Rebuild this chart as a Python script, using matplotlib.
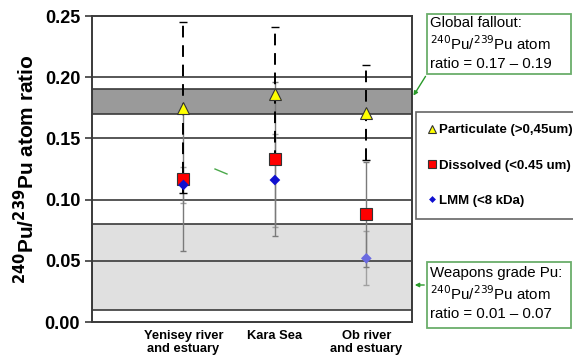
import numpy as np
import matplotlib
matplotlib.use("Agg")
import matplotlib.pyplot as plt
from matplotlib.patches import Rectangle

plt.rcParams['font.family'] = ['Liberation Sans', 'DejaVu Sans']

# data
sites = ["Yenisey river\nand estuary", "Kara Sea", "Ob river\nand estuary"]
particulate = [0.175, 0.186, 0.171]
particulate_err = [0.070, 0.055, 0.039]
dissolved = [0.117, 0.133, 0.088]
dissolved_err = [0.059, 0.063, 0.043]
lmm = [0.112, 0.116, 0.052]
lmm_err = [0.015, 0.038, 0.022]
lmm_colors = ['#1010d0', '#1010d0', '#6a6ae0']

fallout_band = (0.17, 0.19)
weapons_band = (0.01, 0.08)
grid_levels = [0.05, 0.10, 0.15, 0.20]
yticks = [0.00, 0.05, 0.10, 0.15, 0.20, 0.25]

x = np.arange(1, len(sites) + 1)
line_c = '#3a3a3a'

fig = plt.figure(figsize=(5.73, 3.56), dpi=100)
ax = fig.add_axes([0.1606, 0.0955, 0.5585, 0.8595])

# reference bands
ax.axhspan(*weapons_band, facecolor='#e0e0e0', edgecolor=line_c, linewidth=1.2, zorder=0)
ax.axhspan(*fallout_band, facecolor='#9a9a9a', edgecolor=line_c, linewidth=1.2, zorder=0)
for g in grid_levels:
    ax.axhline(g, color=line_c, linewidth=1.2, zorder=1)

# error bars
e1 = ax.errorbar(x, lmm, yerr=lmm_err, fmt='none', ecolor='#a0a0a0', elinewidth=1, capsize=2.5, zorder=2)
e2 = ax.errorbar(x, dissolved, yerr=dissolved_err, fmt='none', ecolor='#7a7a7a', elinewidth=1, capsize=2.5, zorder=3)
e3 = ax.errorbar(x, particulate, yerr=particulate_err, fmt='none', ecolor='black', elinewidth=1.4, capsize=3, zorder=4)
e3[2][0].set_linestyle((0, (6, 4)))

# markers
h1, = ax.plot(x, particulate, '^', ms=8, mfc='#ffff00', mec='#333333', mew=0.8, ls='none', zorder=6,
              label='Particulate (>0,45um)')
h2, = ax.plot(x, dissolved, 's', ms=8, mfc='#ff0000', mec='#333333', mew=0.8, ls='none', zorder=6,
              label='Dissolved (<0.45 um)')
ax.scatter(x, lmm, marker='D', s=30, c=lmm_colors, edgecolors='none', zorder=7)
h3, = ax.plot([], [], 'D', ms=5, mfc='#1010d0', mec='none', ls='none', label='LMM (<8 kDa)')

ax.set_xlim(0, 3.5)
ax.set_ylim(0, 0.25)
ax.set_yticks(yticks)
ax.set_yticklabels([f"{v:.2f}" for v in yticks], fontsize=13, fontweight='bold')
ax.set_xticks(x)
ax.set_xticklabels(sites, fontsize=9.3, fontweight='bold', multialignment='center', linespacing=1.1)
ax.tick_params(axis='x', length=0, pad=6)
ax.tick_params(axis='y', length=5, width=1.2, color=line_c, direction='out')
for s in ax.spines.values():
    s.set_color(line_c)
    s.set_linewidth(1.4)
ax.set_ylabel(r"$\mathbf{^{240}}$Pu/$\mathbf{^{239}}$Pu atom ratio", fontsize=15, fontweight='bold', labelpad=5)

leg = fig.legend(handles=[h1, h2, h3], loc='upper left', bbox_to_anchor=(0.726, 0.685),
                 frameon=True, fancybox=False, edgecolor='#404040',
                 prop={'weight': 'bold', 'size': 9.5}, labelspacing=1.75, handlelength=0.6,
                 handletextpad=0.25, borderpad=0.9, borderaxespad=0, markerscale=0.7)
leg.get_frame().set_linewidth(1.2)

# annotation boxes
green = '#6aae6a'
box_kw = dict(transform=fig.transFigure, fontsize=10.8, va='top', ha='left', linespacing=1.3)
fig.patches.append(Rectangle((427 / 573, 1 - 74 / 356), 144 / 573, 60 / 356, transform=fig.transFigure,
                             facecolor='white', edgecolor=green, linewidth=1.3))
fig.text(430 / 573, 1 - 16 / 356,
         "Global fallout:\n$^{240}$Pu/$^{239}$Pu atom\nratio = 0.17 \u2013 0.19", **box_kw)
fig.patches.append(Rectangle((427 / 573, 1 - 328 / 356), 144 / 573, 66 / 356, transform=fig.transFigure,
                             facecolor='white', edgecolor=green, linewidth=1.3))
fig.text(430 / 573, 1 - 266 / 356,
         "Weapons grade Pu:\n$^{240}$Pu/$^{239}$Pu atom\nratio = 0.01 \u2013 0.07", **box_kw)

arrow_kw = dict(arrowstyle='-|>', color='#2a9a2a', lw=1, mutation_scale=6)
ax.annotate('', xy=(412 / 573, 1 - 98 / 356), xycoords='figure fraction',
            xytext=(427 / 573, 1 - 74 / 356), textcoords='figure fraction', arrowprops=arrow_kw)
ax.annotate('', xy=(412 / 573, 1 - 285 / 356), xycoords='figure fraction',
            xytext=(427 / 573, 1 - 285 / 356), textcoords='figure fraction', arrowprops=arrow_kw)
# stray green stroke in the plot
fig.lines.append(plt.Line2D([215 / 573, 227 / 573], [1 - 169 / 356, 1 - 174 / 356],
                            transform=fig.transFigure, color='#4aa84a', lw=1))

fig.savefig("out.png", dpi=100)
